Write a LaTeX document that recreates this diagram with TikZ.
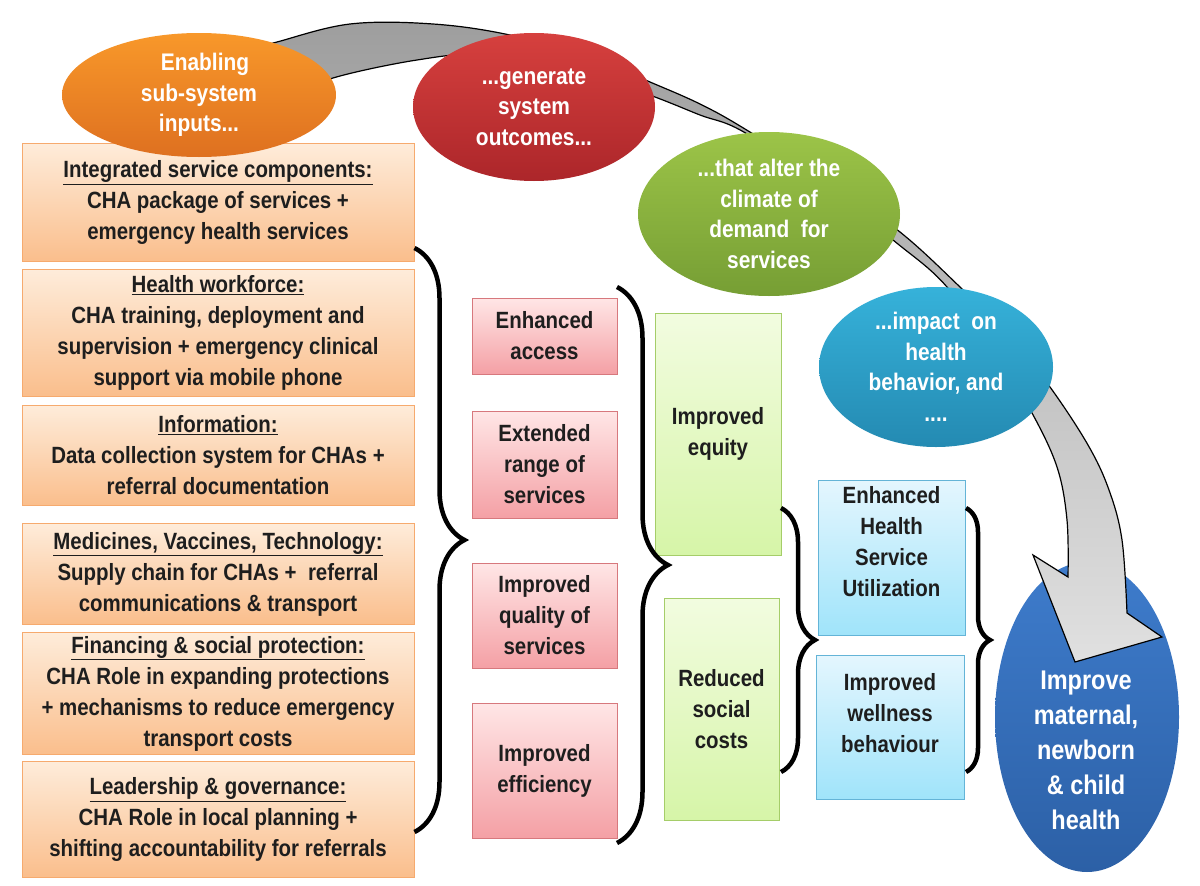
\documentclass[tikz,border=0pt]{standalone}
\usepackage{fontspec}
\setmainfont[FakeStretch=0.87]{Liberation Sans}
\usetikzlibrary{shapes.geometric}
\usetikzlibrary{positioning}
\usetikzlibrary{decorations.pathreplacing,calc}

\definecolor{inptop}{RGB}{254,236,218}
\definecolor{inpbot}{RGB}{250,190,140}
\definecolor{inpln}{RGB}{246,170,110}
\definecolor{outtop}{RGB}{255,230,230}
\definecolor{outbot}{RGB}{244,160,165}
\definecolor{outln}{RGB}{215,120,125}
\definecolor{eqtop}{RGB}{242,252,224}
\definecolor{eqbot}{RGB}{214,245,168}
\definecolor{eqln}{RGB}{165,205,105}
\definecolor{uttop}{RGB}{228,246,254}
\definecolor{utbot}{RGB}{160,228,250}
\definecolor{utln}{RGB}{100,180,215}
\definecolor{ortop}{RGB}{248,152,42}
\definecolor{orbot}{RGB}{222,112,32}
\definecolor{rdtop}{RGB}{214,64,62}
\definecolor{rdbot}{RGB}{172,38,42}
\definecolor{grtop}{RGB}{156,196,72}
\definecolor{grbot}{RGB}{118,158,52}
\definecolor{bltop}{RGB}{54,178,218}
\definecolor{blbot}{RGB}{36,138,178}
\definecolor{dbtop}{RGB}{62,124,204}
\definecolor{dbbot}{RGB}{44,96,166}
\definecolor{txt}{RGB}{30,30,30}

\tikzset{%
  boxtext/.style={align=center,text=txt,inner sep=0pt,
    font=\bfseries\fontsize{23.5}{31}\selectfont},
  inputbox/.style={boxtext,rectangle,draw=inpln,line width=1pt,
    top color=inptop,bottom color=inpbot,minimum width=392pt,anchor=north},
  outcomebox/.style={boxtext,rectangle,draw=outln,line width=1pt,
    top color=outtop,bottom color=outbot,minimum width=145pt},
  demandbox/.style={boxtext,rectangle,draw=eqln,line width=1pt,
    top color=eqtop,bottom color=eqbot},
  behavbox/.style={boxtext,rectangle,draw=utln,line width=1pt,
    top color=uttop,bottom color=utbot},
  bubble/.style={ellipse,inner sep=-8pt,align=center,text=white,
    font=\bfseries\fontsize{24}{30.5}\selectfont},
  curly/.style={decorate,decoration={brace,amplitude=#1},line width=4.5pt,black},
  bigarrow/.style={draw=black,line width=1.2pt,top color=black!38,bottom color=black!12},
}

\begin{document}
\begin{tikzpicture}[x=1pt,y=1pt]
    \useasboundingbox[fill=white] (0,0) rectangle (1200,-886);

    % enabling sub-system inputs
    \node[inputbox,minimum height=118pt] (services) at (218,-143)
        {\underline{Integrated service components:}\\CHA package of services +\\emergency health services};
    \node[inputbox,minimum height=127pt] (workforce) at (218,-269)
        {\underline{Health workforce:}\\CHA training, deployment and\\supervision + emergency clinical\\support via mobile phone};
    \node[inputbox,minimum height=100pt] (information) at (218,-405)
        {\underline{Information:}\\Data collection system for CHAs +\\referral documentation};
    \node[inputbox,minimum height=101pt] (medicines) at (218,-523)
        {\underline{Medicines, Vaccines, Technology:}\\Supply chain for CHAs +\ \ referral\\communications \& transport};
    \node[inputbox,minimum height=122pt] (financing) at (218,-632)
        {\underline{Financing \& social protection:}\\CHA Role in expanding protections\\+ mechanisms to reduce emergency\\transport costs};
    \node[inputbox,minimum height=116pt] (leadership) at (218,-761)
        {\underline{Leadership \& governance:}\\CHA Role in local planning +\\shifting accountability for referrals};

    % system outcomes
    \node[outcomebox,minimum height=76pt] (access) at (544.5,-336) {Enhanced\\access};
    \node[outcomebox,minimum height=107pt] (range) at (544.5,-464.5) {Extended\\range of\\services};
    \node[outcomebox,minimum height=105pt] (quality) at (544.5,-615.5) {Improved\\quality of\\services};
    \node[outcomebox,minimum height=135pt] (efficiency) at (544.5,-770.5) {Improved\\efficiency};

    % climate of demand
    \node[demandbox,minimum width=126pt,minimum height=242pt] (equity) at (718,-434) {Improved\\equity};
    \node[demandbox,minimum width=115pt,minimum height=222pt] (socialcost) at (721.5,-709) {Reduced\\social\\costs};

    % health behaviour
    \node[behavbox,minimum width=147pt,minimum height=155pt] (utilization) at (891.5,-557.5) {};
    \node[boxtext,below=7pt of utilization.north] (utiltext) {Enhanced\\Health\\Service\\Utilization};
    \node[behavbox,minimum width=148pt,minimum height=144pt] (wellness) at (890,-727) {};
    \node[boxtext,below=19pt of wellness.north] (welltext) {Improved\\wellness\\behaviour};

    % braces
    \coordinate (inptop) at ($(services.south east)+(0,14)$);
    \coordinate (inpbot) at ($(leadership.north east)+(0,-71)$);
    \coordinate (outtop) at (617,-287);
    \coordinate (outbot) at (617,-843);
    \coordinate (dmdtop) at (781,-508);
    \coordinate (dmdbot) at (781,-772);
    \coordinate (behtop) at (966,-508);
    \coordinate (behbot) at (966,-772);
    \draw[curly=50pt] (inptop) -- (inpbot);
    \draw[curly=51pt] (outtop) -- (outbot);
    \draw[curly=34pt] (dmdtop) -- (dmdbot);
    \draw[curly=24pt] (behtop) -- (behbot);

    % goal
    \node[ellipse,minimum width=184pt,minimum height=310pt,top color=dbtop,bottom color=dbbot] (goal) at (1087,-717) {};

    % big curved arrow
    \draw[bigarrow] plot[smooth,tension=0.6] coordinates {(250,-50) (277,-42) (350,-24) (433,-24) (510,-35)
        (590,-57) (650,-82) (700,-104) (745,-129) (830,-183) (900,-232) (960,-287) (1010,-337) (1050,-387)
        (1088,-445) (1109,-490) (1122,-540) (1127,-613)}
        -- (1162,-637) -- (1075,-662) -- (1033,-555)
        -- plot[smooth,tension=0.6] coordinates {(1068,-577) (1067,-520) (1057,-467) (1032,-413)
        (1000,-362) (947,-287) (893,-240) (820,-182) (742,-131) (700,-115) (655,-97) (580,-70) (483,-55)
        (417,-60) (333,-78) (300,-95)} -- cycle;

    % bubbles
    \node[bubble,minimum width=274pt,minimum height=124pt,top color=ortop,bottom color=orbot] (inputs) at (199,-95)
        {\hspace*{12pt}Enabling\\sub-system\\inputs...};
    \node[bubble,minimum width=242pt,minimum height=148pt,top color=rdtop,bottom color=rdbot] (outcomes) at (534,-107)
        {...generate\\system\\outcomes...};
    \node[bubble,minimum width=262pt,minimum height=164pt,top color=grtop,bottom color=grbot] (climate) at (769,-214)
        {...that alter the\\climate of\\demand\ \ for\\services};
    \node[bubble,minimum width=234pt,minimum height=160pt,top color=bltop,bottom color=blbot] (behaviour) at (936,-367)
        {...impact\ \ on\\health\\behavior, and\\....};

    \node[bubble,font=\bfseries\fontsize{27}{35}\selectfont] (goaltext) at (1086,-750)
        {Improve\\maternal,\\newborn\\\& child\\health};
\end{tikzpicture}
\end{document}
